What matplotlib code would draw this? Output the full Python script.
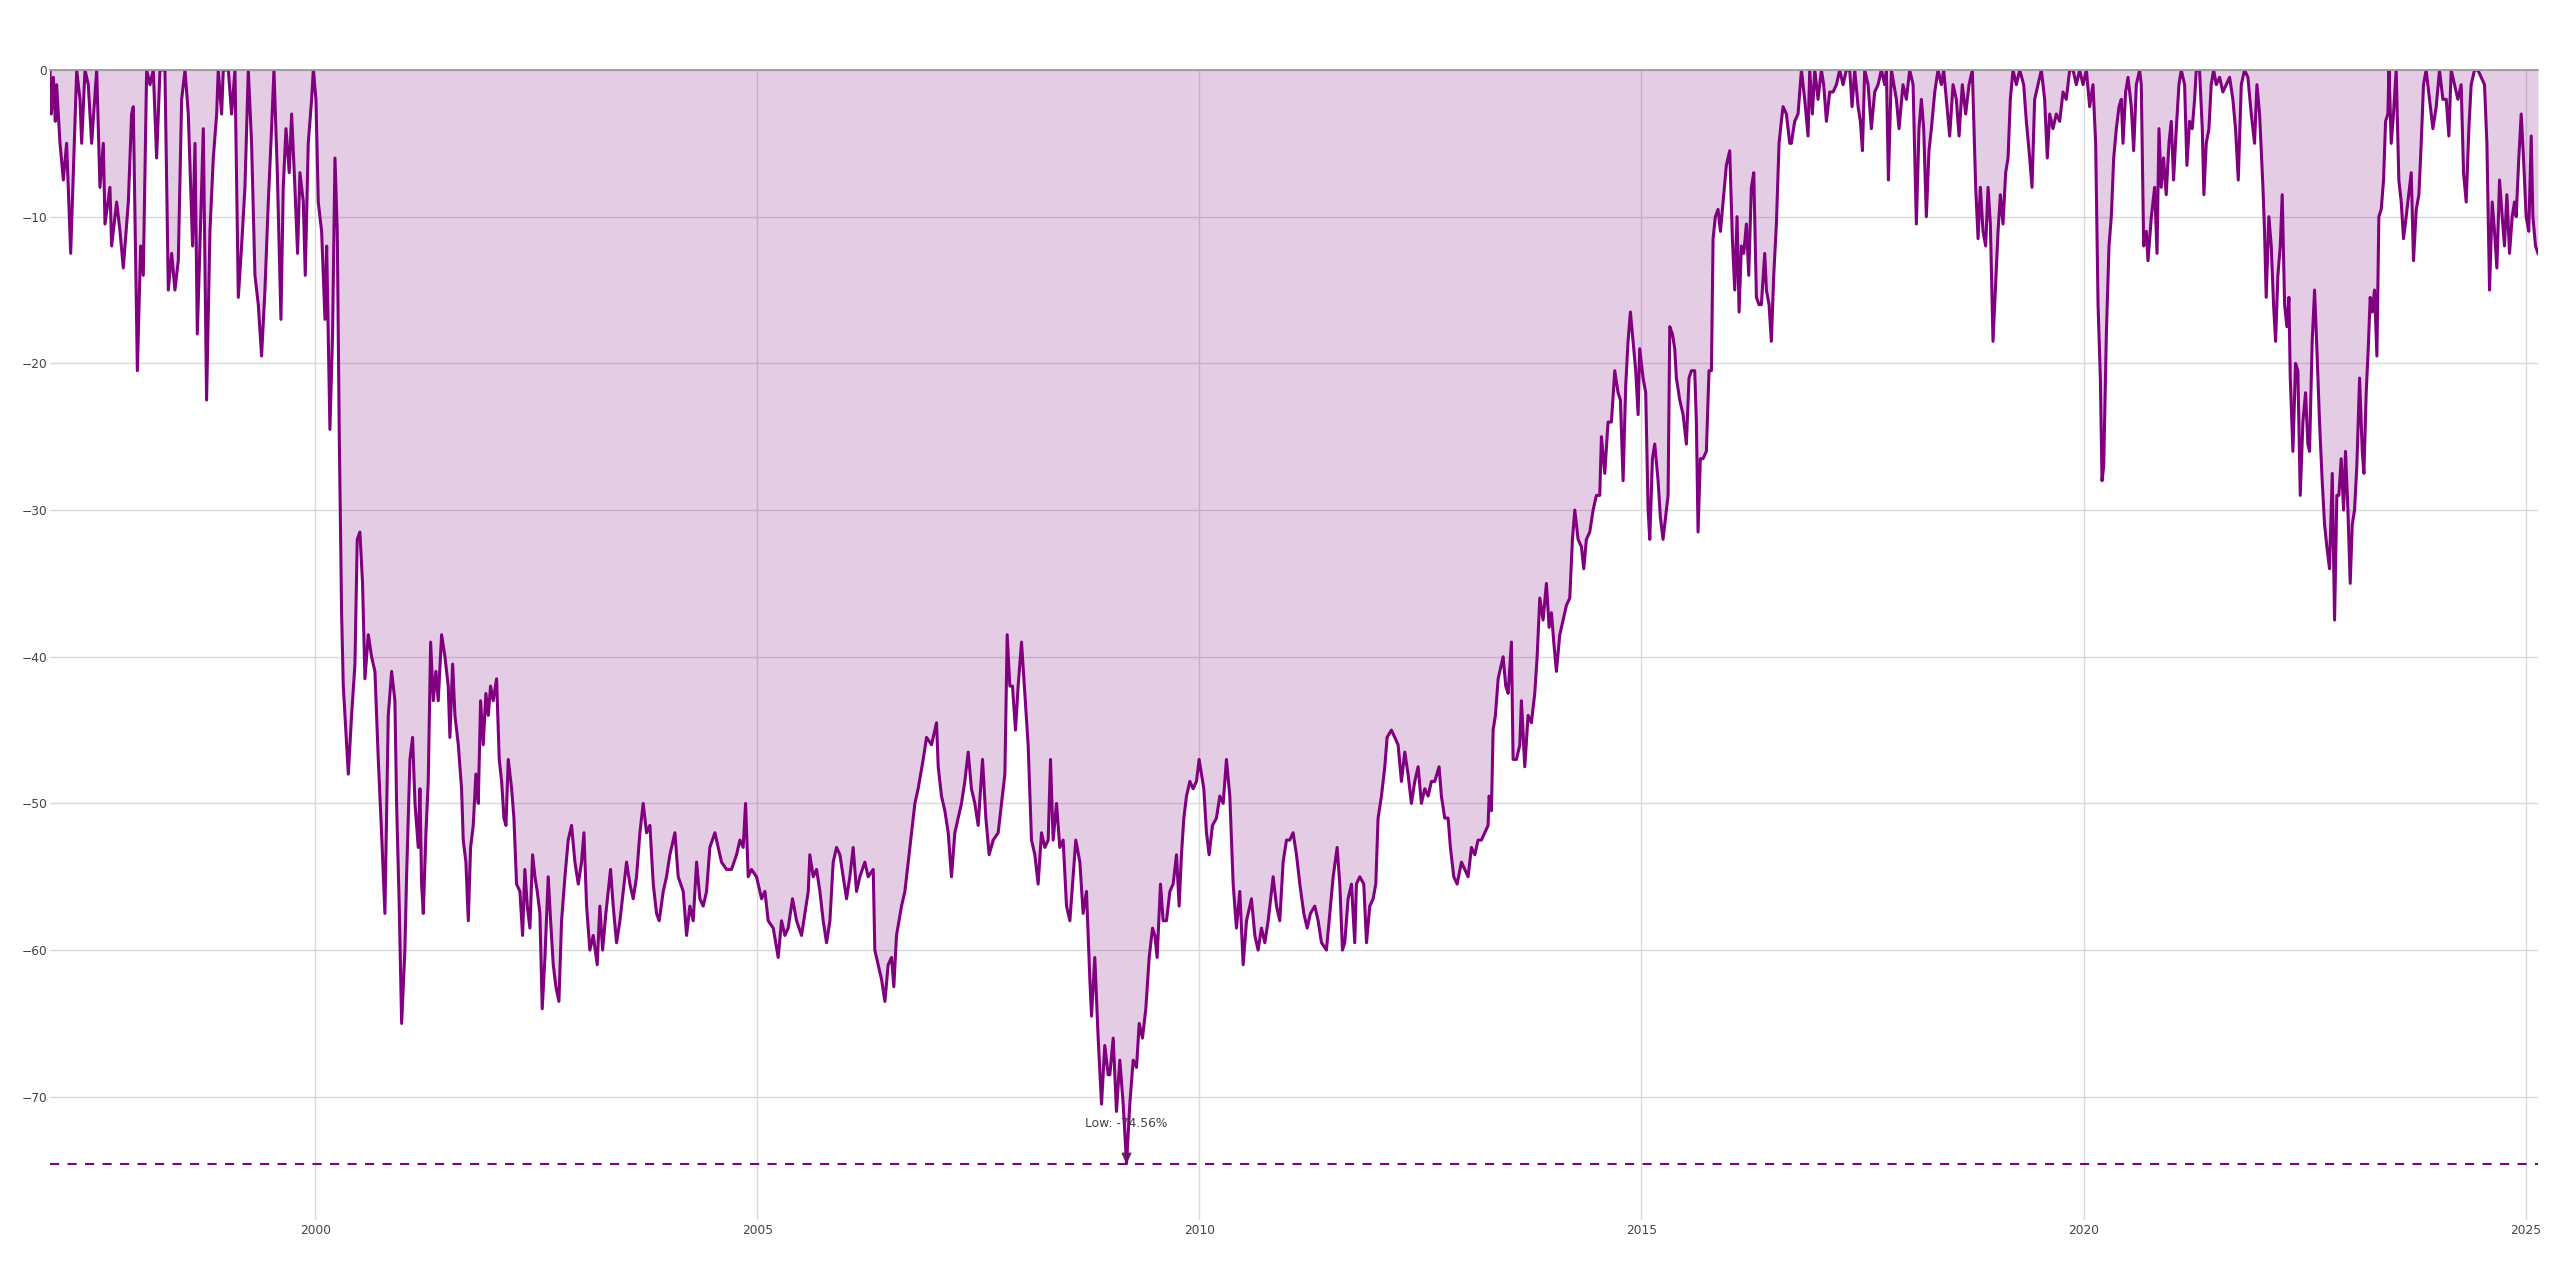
import numpy as np
import matplotlib
matplotlib.use("Agg")
import matplotlib.pyplot as plt

# drawdown (%), x in decimal years
years_9798 = [1997.000, 1997.015, 1997.038, 1997.060, 1997.075, 1997.113, 1997.151, 1997.188, 1997.234, 1997.264,
              1997.302, 1997.339, 1997.358, 1997.396, 1997.433, 1997.471, 1997.528, 1997.565, 1997.603, 1997.622,
              1997.678, 1997.697, 1997.754, 1997.792, 1997.829, 1997.886, 1997.923, 1997.942, 1997.988,
              1998.025, 1998.055, 1998.093, 1998.131, 1998.168, 1998.206, 1998.244, 1998.300, 1998.338, 1998.376,
              1998.413, 1998.451, 1998.489, 1998.527, 1998.564, 1998.613, 1998.640, 1998.666, 1998.696, 1998.734,
              1998.771, 1998.809, 1998.847, 1998.885, 1998.903, 1998.941, 1998.960]
dd_9798 = [0, -3, -0.5, -3.5, -1, -5, -7.5, -5, -12.5, -7,
           0, -2, -5, 0, -1, -5, 0, -8, -5, -10.5,
           -8, -12, -9, -11, -13.5, -9, -3, -2.5, -20.5,
           -12, -14, 0, -1, 0, -6, 0, 0, -15, -12.5,
           -15, -13, -2, 0, -3, -12, -5, -18, -12, -4,
           -22.5, -11, -6, -3, 0, -3, 0]

years_9900 = [1999.017, 1999.054, 1999.092, 1999.130, 1999.167, 1999.205, 1999.243, 1999.280, 1999.318, 1999.356,
              1999.393, 1999.431, 1999.469, 1999.506, 1999.533, 1999.571, 1999.612, 1999.638, 1999.669, 1999.706,
              1999.733, 1999.770, 1999.800, 1999.827, 1999.865, 1999.887, 1999.921, 1999.959, 1999.978,
              2000.008, 2000.034, 2000.072, 2000.110, 2000.129, 2000.166, 2000.196, 2000.223, 2000.249, 2000.272,
              2000.298, 2000.317, 2000.336, 2000.374, 2000.411, 2000.449, 2000.475, 2000.505, 2000.535, 2000.562,
              2000.600, 2000.637, 2000.675, 2000.713, 2000.750, 2000.788, 2000.826, 2000.864, 2000.901, 2000.920,
              2000.950, 2000.977]
dd_9900 = [0, -3, 0, -15.5, -12, -8, 0, -5, -14, -16,
           -19.5, -15, -9, -4, 0, -7, -17, -8, -4, -7,
           -3, -8, -12.5, -7, -9, -14, -5, -2, 0,
           -2, -9, -11, -17, -12, -24.5, -18, -6, -11, -25,
           -37, -42, -44, -48, -44, -40.5, -32, -31.5, -35, -41.5,
           -38.5, -40, -41, -47, -52, -57.5, -44, -41, -43, -50,
           -57, -65]

years_0102 = [2001.014, 2001.033, 2001.071, 2001.101, 2001.128, 2001.165, 2001.184, 2001.203, 2001.222, 2001.252,
              2001.278, 2001.305, 2001.335, 2001.365, 2001.391, 2001.429, 2001.467, 2001.504, 2001.523, 2001.554,
              2001.580, 2001.618, 2001.655, 2001.674, 2001.704, 2001.731, 2001.757, 2001.787, 2001.817, 2001.844,
              2001.870, 2001.900, 2001.930, 2001.957, 2001.983,
              2002.013, 2002.051, 2002.081, 2002.108, 2002.134, 2002.157, 2002.183, 2002.221, 2002.247, 2002.277,
              2002.315, 2002.345, 2002.371, 2002.398, 2002.428, 2002.458, 2002.485, 2002.511, 2002.541, 2002.567,
              2002.598, 2002.635, 2002.662, 2002.692, 2002.722, 2002.756, 2002.786, 2002.824, 2002.861, 2002.899,
              2002.937, 2002.975]
dd_0102 = [-60, -55, -47, -45.5, -50, -53, -49, -55.5, -57.5, -52,
           -48.5, -39, -43, -41, -43, -38.5, -40, -42, -45.5, -40.5,
           -44, -46, -49, -52.5, -54, -58, -53, -51.5, -48, -50,
           -43, -46, -42.5, -44, -42,
           -43, -41.5, -47, -48.5, -51, -51.5, -47, -49, -51, -55.5,
           -56, -59, -54.5, -57, -58.5, -53.5, -55, -56, -57.5, -64,
           -60.5, -55, -58, -61, -62.5, -63.5, -58, -55, -52.5, -51.5,
           -54, -55.5]

years_0304 = [2003.012, 2003.039, 2003.069, 2003.106, 2003.144, 2003.189, 2003.219, 2003.250, 2003.287, 2003.340,
              2003.370, 2003.408, 2003.446, 2003.483, 2003.521, 2003.559, 2003.596, 2003.634, 2003.672, 2003.709,
              2003.747, 2003.785, 2003.823, 2003.860, 2003.890, 2003.936, 2003.973,
              2004.011, 2004.068, 2004.105, 2004.162, 2004.200, 2004.237, 2004.275, 2004.313, 2004.350, 2004.388,
              2004.426, 2004.463, 2004.520, 2004.558, 2004.595, 2004.652, 2004.708, 2004.765, 2004.803, 2004.840,
              2004.867, 2004.897, 2004.934, 2004.991]
dd_0304 = [-54, -52, -57, -60, -59, -61, -57, -60, -57.5, -54.5,
           -57, -59.5, -58, -56, -54, -55.5, -56.5, -55, -52, -50,
           -52, -51.5, -55.5, -57.5, -58, -56, -55,
           -53.5, -52, -55, -56, -59, -57, -58, -54, -56.5, -57,
           -56, -53, -52, -53, -54, -54.5, -54.5, -53.5, -52.5, -53,
           -50, -55, -54.5, -55]

years_0506 = [2005.048, 2005.086, 2005.123, 2005.180, 2005.236, 2005.274, 2005.312, 2005.349, 2005.398, 2005.444,
              2005.500, 2005.538, 2005.576, 2005.594, 2005.632, 2005.670, 2005.708, 2005.745, 2005.783, 2005.821,
              2005.858, 2005.896, 2005.934, 2005.971,
              2006.009, 2006.047, 2006.084, 2006.122, 2006.160, 2006.216, 2006.254, 2006.311, 2006.329, 2006.367,
              2006.405, 2006.443, 2006.480, 2006.518, 2006.544, 2006.574, 2006.631, 2006.669, 2006.725, 2006.782,
              2006.819, 2006.876, 2006.914, 2006.970]
dd_0506 = [-56.5, -56, -58, -58.5, -60.5, -58, -59, -58.5, -56.5, -58,
           -59, -57.5, -56, -53.5, -55, -54.5, -56, -58, -59.5, -58,
           -54, -53, -53.5, -55,
           -56.5, -55, -53, -56, -55, -54, -55, -54.5, -60, -61,
           -62, -63.5, -61, -60.5, -62.5, -59, -57, -56, -53, -50,
           -49, -47, -45.5, -46]

years_0708 = [2007.027, 2007.046, 2007.083, 2007.121, 2007.159, 2007.196, 2007.234, 2007.272, 2007.309, 2007.347,
              2007.385, 2007.422, 2007.460, 2007.498, 2007.547, 2007.585, 2007.622, 2007.668, 2007.724, 2007.762,
              2007.800, 2007.826, 2007.856, 2007.886, 2007.920, 2007.950, 2007.988,
              2008.026, 2008.063, 2008.101, 2008.139, 2008.176, 2008.214, 2008.252, 2008.290, 2008.316, 2008.346,
              2008.384, 2008.421, 2008.459, 2008.497, 2008.535, 2008.572, 2008.602, 2008.648, 2008.685, 2008.723,
              2008.761, 2008.780, 2008.817, 2008.855, 2008.893, 2008.930, 2008.968]
dd_0708 = [-44.5, -47.5, -49.5, -50.5, -52, -55, -52, -51, -50, -48.5,
           -46.5, -49, -50, -51.5, -47, -51, -53.5, -52.5, -52, -50,
           -48, -38.5, -42, -42, -45, -42, -39,
           -42.5, -46, -52.5, -53.5, -55.5, -52, -53, -52.5, -47, -52.5,
           -50, -53, -52.5, -57, -58, -55, -52.5, -54, -57.5, -56,
           -62, -64.5, -60.5, -66, -70.5, -66.5, -68.5]

years_0910 = [2008.987, 2009.025, 2009.062, 2009.100, 2009.138, 2009.176, 2009.213, 2009.251, 2009.289, 2009.319,
              2009.356, 2009.394, 2009.432, 2009.470, 2009.496, 2009.522, 2009.560, 2009.590, 2009.628, 2009.666,
              2009.703, 2009.741, 2009.771, 2009.797, 2009.824, 2009.854, 2009.892, 2009.929, 2009.967, 2009.997,
              2010.024, 2010.050, 2010.080, 2010.110, 2010.148, 2010.193, 2010.231, 2010.269, 2010.306, 2010.344,
              2010.382, 2010.419, 2010.457, 2010.495, 2010.533, 2010.589, 2010.627, 2010.664, 2010.702, 2010.740,
              2010.778, 2010.834, 2010.872, 2010.909, 2010.947, 2010.985]
dd_0910 = [-68.5, -66, -71, -67.5, -70.5, -74.56, -70.5, -67.5, -68, -65,
           -66, -64, -60.5, -58.5, -59, -60.5, -55.5, -58, -58, -56,
           -55.5, -53.5, -57, -53.5, -51, -49.5, -48.5, -49, -48.5, -47,
           -48, -49, -52, -53.5, -51.5, -51, -49.5, -50, -47, -49.5,
           -55.5, -58.5, -56, -61, -58, -56.5, -59, -60, -58.5, -59.5,
           -58, -55, -57, -58, -54, -52.5]

years_1112 = [2011.022, 2011.060, 2011.098, 2011.136, 2011.181, 2011.219, 2011.256, 2011.305, 2011.343, 2011.381,
              2011.437, 2011.475, 2011.513, 2011.558, 2011.588, 2011.618, 2011.644, 2011.682, 2011.720, 2011.757,
              2011.776, 2011.814, 2011.859, 2011.890, 2011.927, 2011.965, 2011.995,
              2012.021, 2012.059, 2012.097, 2012.123, 2012.172, 2012.210, 2012.247, 2012.285, 2012.323, 2012.360,
              2012.398, 2012.436, 2012.474, 2012.511, 2012.549, 2012.587, 2012.624, 2012.662, 2012.711, 2012.737,
              2012.775, 2012.813, 2012.839, 2012.877, 2012.915, 2012.964]
dd_1112 = [-52.5, -52, -53.5, -55.5, -57.5, -58.5, -57.5, -57, -58, -59.5,
           -60, -57.5, -55, -53, -55.5, -60, -59.5, -56.5, -55.5, -59.5,
           -55.5, -55, -55.5, -59.5, -57, -56.5, -55.5,
           -51, -49.5, -47.5, -45.5, -45, -45.5, -46, -48.5, -46.5, -48,
           -50, -48.5, -47.5, -50, -49, -49.5, -48.5, -48.5, -47.5, -49.5,
           -51, -51, -53, -55, -55.5, -54]

years_1314 = [2013.002, 2013.039, 2013.077, 2013.115, 2013.152, 2013.190, 2013.228, 2013.265, 2013.277, 2013.303,
              2013.322, 2013.348, 2013.379, 2013.416, 2013.435, 2013.465, 2013.492, 2013.529, 2013.548, 2013.586,
              2013.624, 2013.642, 2013.680, 2013.718, 2013.755, 2013.793, 2013.820, 2013.850, 2013.887, 2013.925,
              2013.955, 2013.982,
              2014.008, 2014.038, 2014.076, 2014.114, 2014.151, 2014.189, 2014.219, 2014.246, 2014.283, 2014.321,
              2014.347, 2014.377, 2014.415, 2014.453, 2014.490, 2014.528, 2014.547, 2014.585, 2014.622, 2014.660,
              2014.698, 2014.735, 2014.762, 2014.792, 2014.822, 2014.848, 2014.875, 2014.905, 2014.935, 2014.962,
              2014.980]
dd_1314 = [-54.5, -55, -53, -53.5, -52.5, -52.5, -52, -51.5, -49.5, -50.5,
           -45, -44, -41.5, -40.5, -40, -42, -42.5, -39, -47, -47,
           -46, -43, -47.5, -44, -44.5, -42.5, -40, -36, -37.5, -35,
           -38, -37,
           -39, -41, -38.5, -37.5, -36.5, -36, -32, -30, -32, -32.5,
           -34, -32, -31.5, -30, -29, -29, -25, -27.5, -24, -24,
           -20.5, -22, -22.5, -28, -21.5, -18.5, -16.5, -18.5, -20.5, -23.5,
           -19]

years_1516 = [2015.018, 2015.048, 2015.075, 2015.094, 2015.124, 2015.150, 2015.188, 2015.214, 2015.244, 2015.282,
              2015.301, 2015.320, 2015.350, 2015.376, 2015.395, 2015.433, 2015.471, 2015.508, 2015.538, 2015.565,
              2015.602, 2015.621, 2015.640, 2015.666, 2015.696, 2015.734, 2015.764, 2015.791, 2015.810, 2015.836,
              2015.866, 2015.893, 2015.923, 2015.960, 2015.998,
              2016.028, 2016.055, 2016.081, 2016.104, 2016.130, 2016.157, 2016.187, 2016.213, 2016.243, 2016.270,
              2016.300, 2016.330, 2016.356, 2016.394, 2016.413, 2016.443, 2016.469, 2016.496, 2016.526, 2016.556,
              2016.582, 2016.601, 2016.639, 2016.677, 2016.695, 2016.733, 2016.771, 2016.809, 2016.846, 2016.884,
              2016.903, 2016.933, 2016.960, 2016.997]
dd_1516 = [-21, -22, -30, -32, -26.5, -25.5, -28, -30.5, -32, -30,
           -29, -17.5, -18, -19, -21, -22.5, -23.5, -25.5, -21, -20.5,
           -20.5, -24, -31.5, -26.5, -26.5, -26, -20.5, -20.5, -11.5, -10,
           -9.5, -11, -9, -6.5, -5.5,
           -11.5, -15, -10, -16.5, -12, -12.5, -10.5, -14, -8, -7,
           -15.5, -16, -16, -12.5, -15, -16, -18.5, -14, -10.5, -5,
           -3.5, -2.5, -3, -5, -5, -3.5, -3, 0, -2, -4.5,
           0, -3, 0, -2]

years_1718 = [2017.035, 2017.061, 2017.092, 2017.129, 2017.167, 2017.205, 2017.242, 2017.280, 2017.318, 2017.355,
              2017.382, 2017.412, 2017.450, 2017.476, 2017.499, 2017.525, 2017.563, 2017.600, 2017.638, 2017.676,
              2017.713, 2017.751, 2017.770, 2017.793, 2017.827, 2017.883, 2017.913, 2017.958, 2017.996,
              2018.034, 2018.072, 2018.109, 2018.139, 2018.166, 2018.192, 2018.222, 2018.252, 2018.279, 2018.317,
              2018.354, 2018.392, 2018.418, 2018.448, 2018.486, 2018.524, 2018.561, 2018.592, 2018.629, 2018.667,
              2018.705, 2018.742, 2018.780, 2018.807, 2018.833, 2018.863, 2018.893, 2018.920, 2018.946, 2018.976]
dd_1718 = [0, -1, -3.5, -1.5, -1.5, -1, 0, -1, 0, 0,
           -2.5, 0, -2.5, -3.5, -5.5, 0, -1, -4, -1.5, -1,
           0, -1, 0, -7.5, 0, -2, -4, -1, -2,
           0, -1, -10.5, -4, -2, -4, -10, -5.5, -4, -1.5,
           0, -1, 0, -2, -4.5, -1, -2, -4.5, -1, -3,
           -1, 0, -8, -11.5, -8, -11, -12, -8, -10.5, -18.5]

years_1920 = [2019.006, 2019.033, 2019.059, 2019.089, 2019.119, 2019.146, 2019.172, 2019.202, 2019.240, 2019.278,
              2019.323, 2019.353, 2019.391, 2019.417, 2019.447, 2019.485, 2019.523, 2019.560, 2019.590, 2019.617,
              2019.654, 2019.692, 2019.730, 2019.768, 2019.805, 2019.843, 2019.881, 2019.918, 2019.956, 2019.994,
              2020.032, 2020.069, 2020.107, 2020.137, 2020.164, 2020.190, 2020.209, 2020.228, 2020.258, 2020.288,
              2020.314, 2020.341, 2020.371, 2020.401, 2020.427, 2020.446, 2020.476, 2020.503, 2020.540, 2020.567,
              2020.597, 2020.634, 2020.653, 2020.680, 2020.710, 2020.729, 2020.767, 2020.804, 2020.831, 2020.853,
              2020.879, 2020.905, 2020.935, 2020.966, 2020.992]
dd_1920 = [-14.5, -11, -8.5, -10.5, -7, -6, -2, 0, -1, 0,
           -1, -3.5, -6, -8, -2, -1, 0, -2, -6, -3,
           -4, -3, -3.5, -1.5, -2, 0, 0, -1, 0, -1,
           0, -2.5, -1, -5, -16, -21, -28, -27, -18, -12,
           -10, -6, -4, -2.5, -2, -5, -1.5, -0.5, -2.5, -5.5,
           -1, 0, -1, -12, -11, -13, -10, -8, -12.5, -4,
           -8, -6, -8.5, -5, -3.5]

years_2122 = [2021.018, 2021.049, 2021.079, 2021.105, 2021.143, 2021.169, 2021.199, 2021.229, 2021.256, 2021.275,
              2021.312, 2021.343, 2021.361, 2021.388, 2021.418, 2021.444, 2021.471, 2021.501, 2021.539, 2021.576,
              2021.614, 2021.652, 2021.689, 2021.719, 2021.750, 2021.784, 2021.821, 2021.859, 2021.897, 2021.934,
              2021.961, 2021.991,
              2022.029, 2022.047, 2022.066, 2022.096, 2022.123, 2022.149, 2022.172, 2022.198, 2022.225, 2022.247,
              2022.274, 2022.300, 2022.323, 2022.338, 2022.368, 2022.398, 2022.424, 2022.451, 2022.481, 2022.511,
              2022.537, 2022.556, 2022.586, 2022.613, 2022.639, 2022.669, 2022.699, 2022.726, 2022.752, 2022.782,
              2022.813, 2022.839, 2022.865, 2022.888, 2022.914, 2022.941, 2022.963, 2022.990]
dd_2122 = [-7.5, -4, -1, 0, -1, -6.5, -3.5, -4, -2, 0,
           0, -4, -8.5, -5, -4, -1, 0, -1, -0.5, -1.5,
           -1, -0.5, -2, -4, -7.5, -1, 0, -0.5, -3, -5,
           -1, -3,
           -8, -11, -15.5, -10, -12, -16, -18.5, -14, -12, -8.5,
           -16, -17.5, -15.5, -21, -26, -20, -20.5, -29, -24, -22,
           -25.5, -26, -18.5, -15, -19, -24, -28, -31, -32.5, -34,
           -27.5, -37.5, -29, -29, -26.5, -30, -26, -30]

years_2325 = [2023.016, 2023.039, 2023.065, 2023.091, 2023.122, 2023.152, 2023.171, 2023.197, 2023.220, 2023.242,
              2023.265, 2023.291, 2023.318, 2023.340, 2023.367, 2023.393, 2023.416, 2023.442, 2023.454, 2023.480,
              2023.506, 2023.536, 2023.566, 2023.593, 2023.619, 2023.649, 2023.687, 2023.706, 2023.732, 2023.763,
              2023.793, 2023.819, 2023.845, 2023.875, 2023.913, 2023.951, 2023.989,
              2024.026, 2024.064, 2024.102, 2024.132, 2024.158, 2024.196, 2024.234, 2024.271, 2024.298, 2024.328,
              2024.358, 2024.384, 2024.422, 2024.460, 2024.497, 2024.535, 2024.562, 2024.592, 2024.622, 2024.648,
              2024.675, 2024.705, 2024.735, 2024.761, 2024.788, 2024.818, 2024.848, 2024.874, 2024.893, 2024.923,
              2024.950, 2024.976, 2025.006, 2025.036, 2025.063, 2025.082, 2025.112, 2025.140]
dd_2325 = [-35, -31, -30, -27, -21, -26, -27.5, -22, -19, -15.5,
           -16.5, -15, -19.5, -10, -9.5, -7.5, -3.5, -3, 0, -5,
           -3, 0, -7.5, -9, -11.5, -10, -8, -7, -13, -9.5,
           -8.5, -5, -1, 0, -2, -4, -2.5,
           0, -2, -2, -4.5, 0, -1, -2, -1, -7, -9,
           -4, -1, 0, 0, -0.5, -1, -5, -15, -9, -11,
           -13.5, -7.5, -10, -12, -8.5, -12.5, -10, -9, -10, -6,
           -3, -6, -10, -11, -4.5, -10, -12, -12.5]

low_year = 2009.176
low_value = -74.56
y_ticks = [0, -10, -20, -30, -40, -50, -60, -70]
x_ticks = [2000, 2005, 2010, 2015, 2020, 2025]

year_parts = [years_9798, years_9900, years_0102, years_0304, years_0506, years_0708, years_0910,
              years_1112, years_1314, years_1516, years_1718, years_1920, years_2122, years_2325]
dd_parts = [dd_9798, dd_9900, dd_0102, dd_0304, dd_0506, dd_0708, dd_0910,
            dd_1112, dd_1314, dd_1516, dd_1718, dd_1920, dd_2122, dd_2325]
years = np.concatenate(year_parts)
drawdown = np.concatenate(dd_parts)

plt.rcParams['font.family'] = ['DejaVu Sans']
W, H = 2560, 1271
fig = plt.figure(figsize=(W / 100, H / 100), dpi=100)
ax = fig.add_axes([50 / W, 1 - 1220 / H, (2538 - 50) / W, (1220 - 70) / H])

purple = '#800080'
ax.fill_between(years, drawdown, 0, color=purple, alpha=0.2, lw=0, zorder=1)
ax.plot(years, drawdown, color=purple, lw=2.2, zorder=3)
ax.axhline(0, color='#9a9a9a', lw=1.3, zorder=4, clip_on=False)
ax.axhline(low_value, color=purple, lw=1.5, dashes=(4.4, 4.0), zorder=3)

# marker for the lowest point
ax.annotate('Low: %.2f%%' % low_value, xy=(low_year, low_value), xytext=(low_year, -71.8),
            ha='center', va='center', fontsize=8.8, color='#444444', zorder=2,
            arrowprops=dict(arrowstyle='-|>', color='#444444', lw=1.5, shrinkA=3, shrinkB=0,
                            mutation_scale=14))

ax.set_xlim(1997.0, 2025.14)
ax.set_ylim(-78.4, 0)
ax.set_xticks(x_ticks)
ax.set_xticklabels([str(t) for t in x_ticks])
ax.set_yticks(y_ticks)
ax.set_axisbelow(True)
ax.grid(True, color='#dadada', lw=1.0)
ax.tick_params(length=0, labelsize=8.8, labelcolor='#444444')
ax.tick_params(axis='x', pad=3)
ax.tick_params(axis='y', pad=2)
for s in ax.spines.values():
    s.set_visible(False)

fig.savefig('out.png', dpi=100, facecolor='white')
